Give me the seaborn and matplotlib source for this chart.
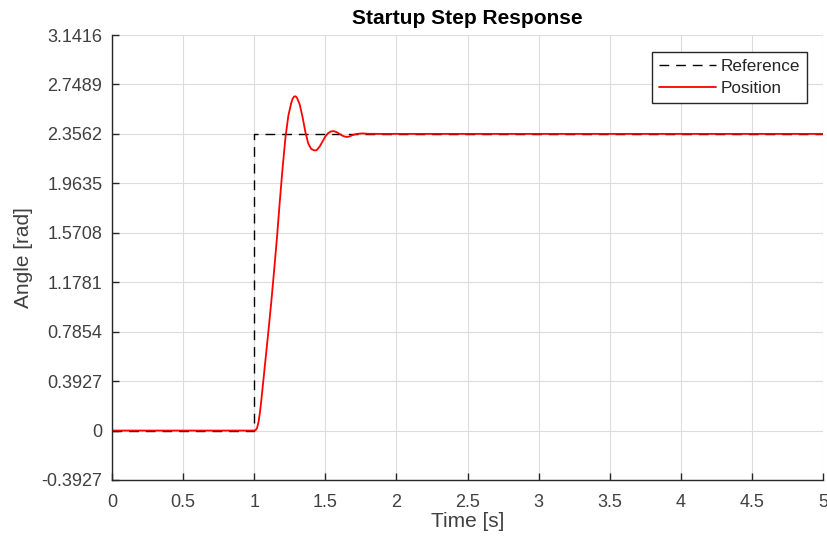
import numpy as np
import pandas as pd
import matplotlib
matplotlib.use("Agg")
import matplotlib.pyplot as plt
import seaborn as sns

# ---- data ----
ref_time = [0.0, 1.0, 1.0, 5.0]
ref_angle = [0.0, 0.0, 2.3562, 2.3562]

pos_time = [0.0, 1.0, 1.01, 1.02, 1.03, 1.04, 1.05, 1.06, 1.08, 1.10, 1.12,
            1.14, 1.16, 1.18, 1.20, 1.22, 1.24, 1.26, 1.27, 1.28, 1.29, 1.30,
            1.32, 1.34, 1.36, 1.38, 1.40, 1.42, 1.43, 1.44, 1.46, 1.48, 1.50,
            1.52, 1.54, 1.56, 1.58, 1.60, 1.62, 1.64, 1.655, 1.67, 1.69, 1.72,
            1.76, 1.80, 1.90, 2.00, 5.00]
pos_angle = [0.0, 0.0, 0.004, 0.02, 0.065, 0.14, 0.24, 0.35, 0.57, 0.79, 1.02,
             1.27, 1.53, 1.82, 2.09, 2.33, 2.50, 2.60, 2.635, 2.652, 2.655, 2.645,
             2.59, 2.49, 2.37, 2.28, 2.238, 2.226, 2.225, 2.228, 2.255, 2.295, 2.335,
             2.362, 2.376, 2.378, 2.370, 2.356, 2.342, 2.334, 2.332, 2.336, 2.346, 2.356,
             2.360, 2.357, 2.356, 2.3562, 2.3562]

x_ticks = [0, 0.5, 1, 1.5, 2, 2.5, 3, 3.5, 4, 4.5, 5]
x_tick_labels = ["0", "0.5", "1", "1.5", "2", "2.5", "3", "3.5", "4", "4.5", "5"]
y_ticks = [-0.3927, 0.0, 0.3927, 0.7854, 1.1781, 1.5708, 1.9635, 2.3562, 2.7489, 3.1416]
y_tick_labels = ["-0.3927", "0", "0.3927", "0.7854", "1.1781", "1.5708",
                 "1.9635", "2.3562", "2.7489", "3.1416"]

sns.set_style("white")
plt.rcParams["font.family"] = ["Liberation Sans", "DejaVu Sans"]

fig = plt.figure(figsize=(8.28, 5.44), dpi=100)
ax = fig.add_axes([112 / 828, 64 / 544, 711 / 828, 445 / 544])

ref_df = pd.DataFrame({"t": ref_time, "y": ref_angle})
pos_df = pd.DataFrame({"t": pos_time, "y": pos_angle})

sns.lineplot(data=ref_df, x="t", y="y", ax=ax, color="black", linewidth=1.0,
             estimator=None, sort=False, label="Reference", dashes=False)
ax.lines[-1].set_dashes((7, 5))
sns.lineplot(data=pos_df, x="t", y="y", ax=ax, color="#ff0000", linewidth=1.3,
             estimator=None, sort=False, label="Position")

ax.set_xlim(0, 5)
ax.set_ylim(-0.3927, 3.1416)
ax.set_xticks(x_ticks)
ax.set_xticklabels(x_tick_labels)
ax.set_yticks(y_ticks)
ax.set_yticklabels(y_tick_labels)

ax.grid(True, color="#dcdcdc", linewidth=0.8)
ax.set_axisbelow(True)
for s in ["top", "right"]:
    ax.spines[s].set_visible(False)
for s in ["left", "bottom"]:
    ax.spines[s].set_color("#262626")
    ax.spines[s].set_linewidth(1.0)

ax.tick_params(axis="both", direction="in", length=5, width=1.0,
               color="#262626", labelcolor="#404040", labelsize=13)
ax.tick_params(axis="x", pad=10, bottom=True)
ax.tick_params(axis="y", pad=7, left=True)

ax.set_xlabel("Time [s]", fontsize=15, color="#404040", labelpad=1)
ax.set_ylabel("Angle [rad]", fontsize=15, color="#404040", labelpad=6)
ax.set_title("Startup Step Response", fontsize=15, fontweight="bold",
             color="black", pad=8)

leg = ax.legend(loc="upper right", fontsize=12.3, frameon=True, fancybox=False,
                edgecolor="#262626", framealpha=1.0, handlelength=3.3,
                handletextpad=0.3, borderpad=0.4, labelspacing=0.45,
                borderaxespad=0.0, bbox_to_anchor=(0.9775, 0.962))
leg.get_frame().set_linewidth(1.0)
for txt in leg.get_texts():
    txt.set_color("#262626")

fig.savefig("out.png", dpi=100)
